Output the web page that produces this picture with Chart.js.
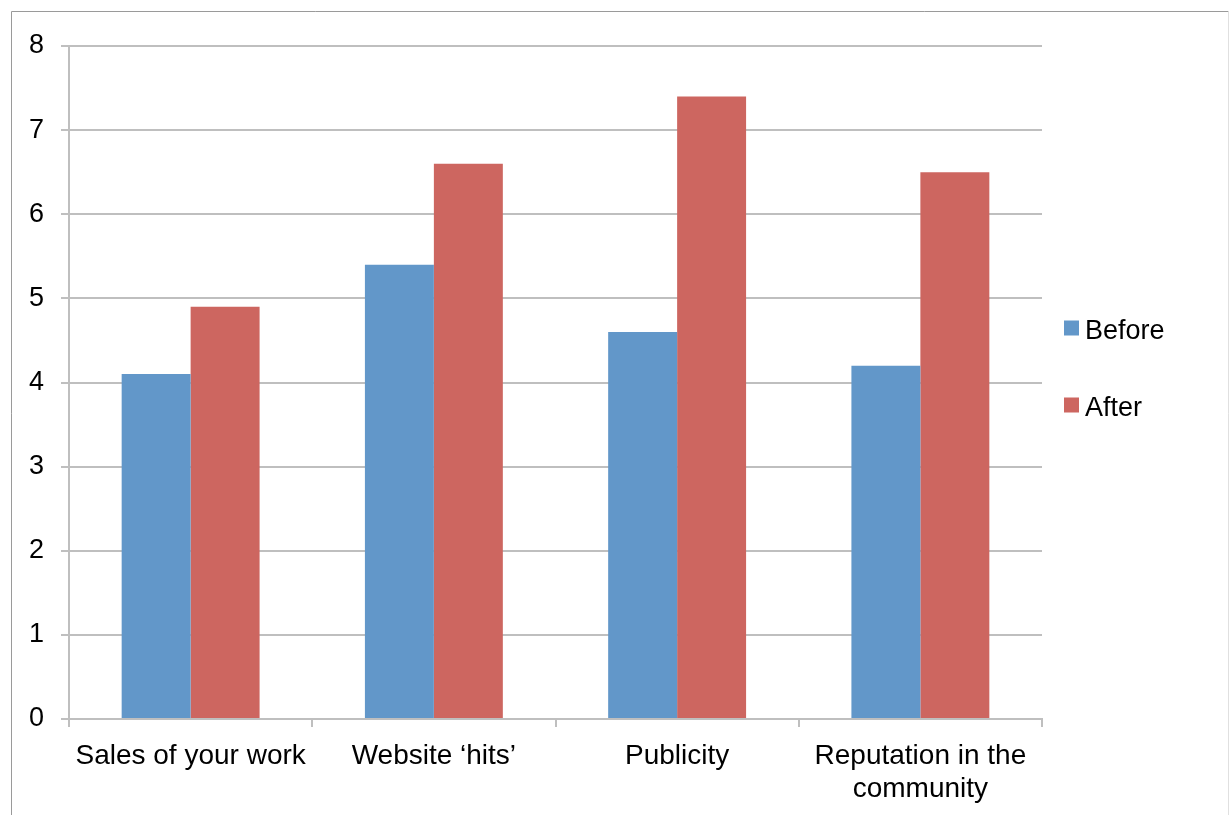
<!DOCTYPE html>
<html>
<head>
<meta charset="utf-8">
<script src="https://cdn.jsdelivr.net/npm/chart.js@4"></script>
<style>
  html, body { margin: 0; padding: 0; background: #fff; }
  #wrap { position: relative; width: 1230px; height: 815px; }
</style>
</head>
<body>
<div id="wrap"><canvas id="myChart" width="1230" height="815"></canvas></div>
<script>
const categories = ['Sales of your work', 'Website \u2018hits\u2019', 'Publicity', ['Reputation in the', 'community']];
const beforeValues = [4.1, 5.4, 4.6, 4.2];
const afterValues = [4.9, 6.6, 7.4, 6.5];
const seriesNames = ['Before', 'After'];
const yTicks = [0, 1, 2, 3, 4, 5, 6, 7, 8];

const blue = '#6297C9';
const red = '#CD6660';
const gridColor = '#BFBFBF';
const fontFamily = '"Liberation Sans", Arial, sans-serif';

// frame around the whole picture
const framePlugin = {
  id: 'frame',
  beforeDraw(chart) {
    let c = chart.ctx;
    c.save();
    c.fillStyle = '#fff';
    c.fillRect(0, 0, chart.width, chart.height);
    c.strokeStyle = '#9a9a9a';
    c.lineWidth = 1;
    c.beginPath();
    c.moveTo(11.5, chart.height + 2);
    c.lineTo(11.5, 11.5);
    c.lineTo(1228.5, 11.5);
    c.stroke();
    c.strokeStyle = '#e0e0e0';
    c.beginPath();
    c.moveTo(1228.5, 11.5);
    c.lineTo(1228.5, chart.height + 2);
    c.stroke();
    c.restore();
  }
};

// legend drawn to the right of the plot, from the datasets
const sideLegend = {
  id: 'sideLegend',
  afterDraw(chart) {
    let c = chart.ctx;
    let area = chart.chartArea;
    let x = area.right + 22;
    let y = (area.top + area.bottom) / 2 - 52;
    c.save();
    c.font = '27px ' + fontFamily;
    c.textBaseline = 'middle';
    c.textAlign = 'left';
    chart.data.datasets.forEach((ds, i) => {
      let cy = y + i * 77;
      c.fillStyle = ds.backgroundColor;
      c.fillRect(x, cy - 10, 15, 15);
      c.fillStyle = '#000';
      c.fillText(ds.label, x + 21, cy + 1);
    });
    c.restore();
  }
};

const ctx = document.getElementById('myChart');

new Chart(ctx, {
  type: 'bar',
  data: {
    labels: categories,
    datasets: [
      { label: seriesNames[0], data: beforeValues, backgroundColor: blue },
      { label: seriesNames[1], data: afterValues, backgroundColor: red }
    ]
  },
  options: {
    responsive: false,
    animation: false,
    devicePixelRatio: 1,
    layout: { padding: { left: 0, top: 46, right: 188, bottom: 0 } },
    datasets: {
      bar: { categoryPercentage: 0.567, barPercentage: 1.0, borderWidth: 0 }
    },
    plugins: {
      legend: { display: false },
      tooltip: { enabled: false }
    },
    scales: {
      x: {
        afterFit(scale) { scale.height = 96; },
        grid: {
          offset: true,
          drawOnChartArea: false,
          color: gridColor,
          lineWidth: 2,
          tickLength: 8
        },
        border: { color: gridColor, width: 2 },
        ticks: {
          color: '#000',
          padding: 13,
          maxRotation: 0,
          autoSkip: false,
          font: { family: fontFamily, size: 28, lineHeight: 1.18 }
        }
      },
      y: {
        min: 0,
        max: 8,
        afterFit(scale) { scale.width = 69; },
        afterBuildTicks(scale) { scale.ticks = yTicks.map(v => ({ value: v })); },
        grid: {
          color: gridColor,
          lineWidth: 2,
          tickLength: 8
        },
        border: { color: gridColor, width: 2 },
        ticks: {
          color: '#000',
          padding: 17,
          font: { family: fontFamily, size: 27 }
        }
      }
    }
  },
  plugins: [framePlugin, sideLegend]
});
</script>
</body>
</html>
